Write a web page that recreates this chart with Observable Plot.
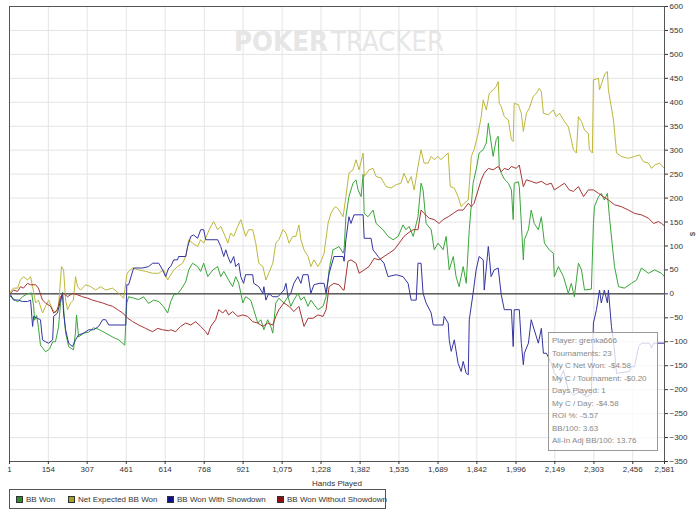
<!DOCTYPE html>
<html><head><meta charset="utf-8">
<script src="https://cdn.jsdelivr.net/npm/d3@7"></script>
<script src="https://cdn.jsdelivr.net/npm/@observablehq/plot@0.6"></script>
<style>
body{margin:0;background:#fff;font-family:"Liberation Sans",Arial,sans-serif;}
#wrap{position:relative;width:700px;height:516px;overflow:hidden;}
#legend{position:absolute;left:9px;top:489px;width:375px;height:18px;border:1px solid #555;font-size:8px;color:#333;}
#legend .it{position:absolute;top:5px;display:flex;align-items:center;white-space:nowrap;}
#legend .sw{width:5px;height:5px;border:1px solid #333;margin-right:3px;}
#info{position:absolute;left:548px;top:332px;width:108px;height:117px;border:1px solid #999;background:rgba(255,255,255,0.78);font-size:8px;color:#888;}
#info div{position:absolute;left:3px;white-space:nowrap;}
</style></head><body><div id="wrap"></div><script>
const xTicks = [1,154,307,461,614,768,921,1075,1228,1382,1535,1689,1842,1996,2149,2303,2456,2581];
const yTicks = [-350,-300,-250,-200,-150,-100,-50,0,50,100,150,200,250,300,350,400,450,500,550,600];

const greenHands = [1,17,33,52,72,88,96,100,108,115,123,143,159,171,182,194,202,210,214,222,234,253,261,265,273,293,313,332,352,380,407,431,455,463,470,490,510,529,549,569,589,608,624,636,648,663,675,695,707,722,742,754,766,782,802,821,833,845,864,880,892,904,920,931,951,963,979,991,1003,1018,1030,1038,1050,1062,1082,1098,1109,1121,1137,1149,1161,1177,1188,1216,1236,1248,1260,1275,1287,1299,1315,1319,1326,1338,1354,1366,1374,1386,1394,1398,1413,1433,1445,1472,1492,1512,1532,1551,1563,1575,1591,1610,1622,1630,1642,1662,1674,1689,1709,1721,1733,1749,1760,1772,1788,1800,1812,1827,1839,1851,1867,1879,1887,1891,1906,1918,1926,1930,1938,1950,1966,1978,1985,1989,2005,2009,2025,2029,2045,2056,2068,2084,2096,2108,2127,2143,2147,2163,2183,2202,2214,2226,2242,2254,2266,2293,2301,2305,2321,2332,2344,2356,2364,2384,2400,2423,2451,2471,2490,2518,2542,2569,2581];
const greenValues = [-4,-10,-17,-6,0,2,-25,-55,-45,-70,-107,-121,-115,-100,-100,-70,-20,4,-30,-81,-110,-117,-80,-44,-90,-82,-80,-71,-74,-82,-90,-96,-107,-19,-6,-9,-12,-6,-20,-13,-16,-27,-40,-16,-2,0,8,25,50,64,57,47,64,36,50,57,36,47,29,15,36,22,-19,-6,-13,-33,-61,-54,-75,-54,-68,-82,-19,-9,-19,-6,-26,-13,1,-13,-6,-26,-13,-33,-26,-6,50,92,95,99,85,92,161,203,231,238,217,203,250,168,161,175,147,134,120,113,120,144,134,141,120,161,231,217,147,134,92,106,92,120,50,78,36,15,57,22,134,231,259,294,301,315,356,342,287,322,329,266,252,240,231,217,155,231,234,224,71,113,134,175,147,134,161,106,92,85,36,57,36,1,22,-6,64,50,8,10,147,182,203,210,196,210,161,57,15,12,22,29,54,43,50,43,36];

const yellowHands = [1,5,17,33,44,56,72,84,92,104,115,131,143,155,171,182,194,206,214,222,230,242,253,261,269,281,301,321,340,360,380,407,431,451,463,470,486,510,537,565,589,608,624,636,648,663,683,695,707,722,742,754,766,782,794,805,821,833,845,861,872,884,900,912,920,931,943,959,971,983,999,1011,1022,1038,1050,1062,1078,1090,1102,1117,1129,1141,1149,1161,1177,1188,1200,1216,1228,1240,1256,1267,1279,1287,1299,1315,1326,1338,1354,1366,1378,1394,1398,1417,1433,1445,1465,1484,1504,1524,1543,1555,1571,1583,1595,1610,1622,1634,1650,1662,1674,1689,1701,1713,1729,1737,1753,1768,1780,1792,1808,1820,1831,1847,1859,1867,1879,1891,1906,1918,1926,1930,1938,1950,1966,1978,1985,1989,2005,2017,2025,2037,2049,2064,2076,2088,2096,2104,2124,2143,2155,2167,2187,2202,2214,2222,2234,2242,2254,2266,2281,2285,2297,2301,2321,2325,2340,2348,2356,2360,2380,2392,2411,2439,2463,2483,2498,2518,2530,2542,2561,2581];
const yellowValues = [0,5,12,12,29,36,29,36,15,-19,-13,-40,-26,-13,-33,-40,-26,57,50,-13,-33,-19,-13,36,15,8,19,15,8,15,8,12,1,-9,40,47,54,50,47,43,43,50,29,40,50,57,64,78,113,106,99,113,106,127,141,151,134,141,127,106,127,120,141,155,141,120,134,134,106,64,57,29,43,64,106,113,134,127,106,120,120,144,113,92,78,57,71,57,68,85,148,168,179,182,175,161,203,252,259,280,259,294,245,259,262,245,242,224,221,228,231,252,231,245,217,266,301,273,273,287,280,287,280,287,294,224,221,203,182,189,196,287,301,335,370,405,384,419,426,433,443,398,391,370,363,322,318,398,395,377,339,377,388,412,419,429,422,377,374,384,370,377,360,349,322,301,294,370,360,342,335,301,294,447,450,426,450,461,464,426,363,294,287,283,287,290,276,273,262,269,273,262];

const blueHands = [1,5,17,37,52,72,84,92,96,111,123,131,143,155,171,175,190,202,210,214,222,234,249,261,273,293,313,332,352,368,380,392,459,463,470,490,526,549,565,589,604,616,628,636,648,663,667,695,703,715,726,742,754,766,774,821,833,845,853,861,872,884,892,904,912,923,931,959,963,983,999,1003,1011,1022,1038,1058,1082,1090,1098,1109,1121,1137,1149,1157,1177,1188,1200,1220,1240,1248,1260,1279,1315,1319,1326,1338,1346,1358,1394,1398,1425,1433,1453,1476,1492,1524,1551,1571,1583,1603,1610,1622,1630,1642,1662,1670,1709,1713,1729,1733,1741,1753,1768,1780,1788,1800,1808,1812,1827,1839,1851,1867,1871,1887,1891,1898,1910,1926,1938,1950,1978,1985,1989,2009,2017,2025,2029,2045,2056,2068,2084,2096,2104,2116,2135,2147,2167,2183,2202,2222,2246,2273,2293,2301,2313,2325,2332,2344,2356,2360,2372,2384,2392,2443,2451,2463,2479,2490,2522,2530,2538,2581];
const blueValues = [0,-2,-13,-13,-16,-16,-13,-68,-47,-51,-54,-96,-100,-103,-96,-47,-40,-13,1,-40,-75,-103,-110,-96,-86,-82,-75,-75,-68,-54,-54,-65,-65,19,19,54,54,57,64,64,50,36,54,57,71,71,78,78,99,120,123,116,134,134,113,113,99,78,92,78,64,78,57,64,36,22,40,40,22,15,1,15,-13,1,-6,-6,8,22,-6,1,22,36,22,40,40,1,19,22,22,1,43,78,78,68,113,161,147,165,165,116,116,92,78,64,36,40,36,22,-13,-13,64,64,1,-19,-40,-65,-65,-47,-61,-96,-120,-96,-145,-162,-141,-166,-169,-54,1,50,78,71,8,99,78,36,50,54,-2,-33,-33,-110,-33,-33,-103,-148,-124,-103,-54,-75,-103,-72,-124,-124,-145,-165,-180,-160,-200,-211,-205,-215,-210,-61,-33,8,-19,8,-19,8,-68,-117,-166,-162,-152,-152,-110,-103,-103,-113,-103,-103];

const redHands = [1,5,17,33,44,56,72,84,104,115,131,143,163,175,190,202,214,230,249,269,289,309,328,348,368,388,407,427,447,467,486,510,537,565,585,604,628,636,655,675,695,715,734,754,774,782,794,813,825,841,853,864,880,900,920,939,959,979,999,1018,1038,1050,1062,1082,1102,1121,1141,1161,1177,1196,1216,1236,1248,1260,1279,1299,1315,1319,1334,1346,1366,1378,1398,1417,1437,1457,1476,1496,1516,1536,1555,1571,1591,1610,1622,1634,1654,1674,1693,1709,1729,1749,1768,1788,1808,1820,1831,1847,1859,1871,1887,1906,1926,1938,1950,1966,1978,1997,2009,2025,2037,2056,2076,2096,2116,2135,2147,2167,2187,2206,2222,2242,2262,2281,2301,2321,2340,2360,2384,2411,2439,2463,2490,2518,2538,2557,2569,2581];
const redValues = [0,1,8,5,15,12,22,19,19,12,-13,-19,-26,-40,-33,-6,1,-6,1,-2,-6,-9,-13,-16,-19,-23,-26,-33,-40,-51,-58,-65,-72,-79,-72,-75,-77,-75,-79,-68,-61,-65,-58,-68,-79,-86,-68,-54,-33,-40,-33,-44,-37,-47,-44,-47,-58,-61,-68,-61,-65,-47,-33,-19,-26,-37,-26,-68,-51,-51,-44,-47,-33,15,22,19,8,8,68,71,64,43,50,57,74,71,78,85,92,106,120,127,134,134,175,168,158,155,147,155,161,168,175,175,189,182,189,217,238,252,262,259,266,255,262,259,266,262,269,224,238,235,231,235,228,231,217,224,231,217,214,224,203,217,217,210,203,196,186,182,175,168,165,158,147,151,147,142];

const seriesNames = ["BB Won","Net Expected BB Won","BB Won With Showdown","BB Won Without Showdown"];
const lineColors = ["#3aa53a","#bdb73c","#3434a2","#a83434"];
const swatchColors = ["#2e8b2e","#a3a32a","#10108a","#8a1010"];
const infoLines = ["Player: grenka666","Tournaments: 23","My C Net Won: -$4.58","My C / Tournament: -$0.20","Days Played: 1","My C / Day: -$4.58","ROI %: -5.57","BB/100: 3.63","All-In Adj BB/100: 13.76"];

const hs = [greenHands, yellowHands, blueHands, redHands];
const vs = [greenValues, yellowValues, blueValues, redValues];
const rowsBySeries = hs.map((h, k) => h.map((x, i) => ({hand: x, value: vs[k][i], series: seriesNames[k]})));

const plot = Plot.plot({
  width: 700, height: 488,
  marginLeft: 9, marginRight: 36, marginTop: 6, marginBottom: 27,
  style: {fontFamily: "Liberation Sans, Arial, sans-serif", fontSize: "8px", color: "#333", background: "transparent"},
  x: {domain: [1, 2581]},
  y: {domain: [-350, 600]},
  marks: [
    Plot.gridX(xTicks, {stroke: "#e4e4e4", strokeOpacity: 1}),
    Plot.gridY(yTicks, {stroke: "#e4e4e4", strokeOpacity: 1}),
    Plot.ruleY([0], {stroke: "#111", strokeWidth: 1}),
    ...rowsBySeries.map((rows, k) => Plot.line(rows, {x: "hand", y: "value", stroke: lineColors[k], strokeWidth: 1})),
    Plot.frame({stroke: "#555"}),
    Plot.axisX(xTicks, {tickFormat: d3.format(","), tickSize: 3, tickPadding: 2, label: "Hands Played", labelAnchor: "center", labelArrow: "none", labelOffset: 24}),
    Plot.axisY(yTicks, {anchor: "right", tickSize: 3, tickPadding: 2, label: "$", labelAnchor: "center", labelArrow: "none", labelOffset: 30})
  ]
});

const wrap = document.getElementById("wrap");
wrap.appendChild(plot);
plot.style.position = "absolute"; plot.style.left = "0"; plot.style.top = "0";

// watermark
const svg = d3.select(plot);
const wm = svg.insert("g", ":first-child").attr("fill", "#e6e6e6").attr("text-anchor", "start").attr("font-family", "Liberation Sans Narrow, DejaVu Sans Condensed, Arial, sans-serif");
wm.append("text").attr("x", 234).attr("y", 51).attr("text-anchor", "start").attr("font-size", 27).attr("font-weight", "bold").attr("textLength", 94).attr("lengthAdjust", "spacingAndGlyphs").text("POKER");
wm.append("text").attr("x", 331).attr("y", 51).attr("text-anchor", "start").attr("font-size", 27).attr("textLength", 113).attr("lengthAdjust", "spacingAndGlyphs").text("TRACKER");

// info box
const info = document.createElement("div");
info.id = "info";
infoLines.forEach((t, i) => {
  const d = document.createElement("div");
  d.style.top = (3 + i * 12.5) + "px";
  d.textContent = t;
  info.appendChild(d);
});
wrap.appendChild(info);

// legend
const legend = document.createElement("div");
legend.id = "legend";
const lx = [6, 58, 157, 267];
seriesNames.forEach((n, i) => {
  const it = document.createElement("div");
  it.className = "it";
  it.style.left = lx[i] + "px";
  const sw = document.createElement("span");
  sw.className = "sw";
  sw.style.background = swatchColors[i];
  it.appendChild(sw);
  it.appendChild(document.createTextNode(n));
  legend.appendChild(it);
});
wrap.appendChild(legend);
</script></body></html>
